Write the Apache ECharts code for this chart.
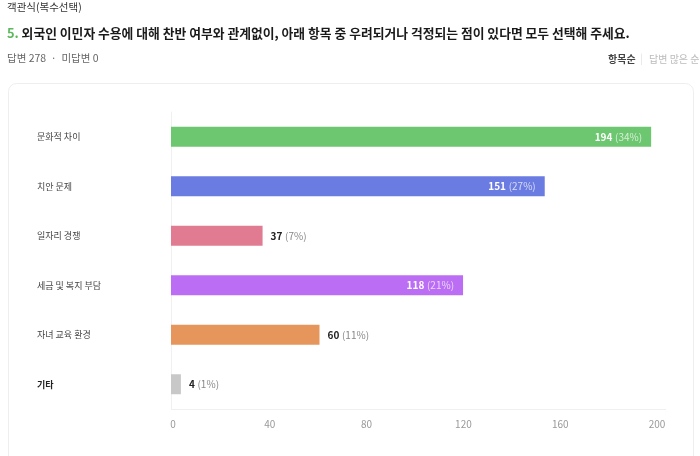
<!DOCTYPE html>
<html><head><meta charset="utf-8">
<script src="https://cdn.jsdelivr.net/npm/echarts@6/dist/echarts.min.js"></script>
<style>html,body{margin:0;padding:0;background:#fff;}#c{width:700px;height:456px;}</style>
</head><body><div id="c"></div>
<script>
const categories = ['문화적 차이', '치안 문제', '일자리 경쟁', '세금 및 복지 부담', '자녀 교육 환경', '기타'];
const counts = [194, 151, 37, 118, 60, 4];
const percents = [34, 27, 7, 21, 11, 1];
const barColors = ['#6dc670', '#6a7be2', '#e07b91', '#bb6ef4', '#e6965a', '#c8c8c8'];
const insideBars = [true, true, false, true, false, false];
const xTicks = [0, 40, 80, 120, 160, 200];

const FONT = '"Noto Sans CJK KR", "Noto Sans", sans-serif';
const chart = echarts.init(document.getElementById('c'));

const data = counts.map((v, i) => ({
  value: v,
  itemStyle: { color: barColors[i] },
  label: insideBars[i]
    ? { position: 'insideRight', distance: 9,
        rich: { n: { color: '#fff', fontWeight: 'bold', fontSize: 10, fontFamily: FONT },
                p: { color: 'rgba(255,255,255,0.72)', fontSize: 10, fontFamily: FONT } } }
    : { position: 'right', distance: 8,
        rich: { n: { color: '#222', fontWeight: 'bold', fontSize: 10, fontFamily: FONT },
                p: { color: '#888', fontSize: 10, fontFamily: FONT } } }
}));

chart.setOption({
  animation: false,
  graphic: [
    { type: 'rect', z: -10, shape: { x: 8.5, y: 83.5, width: 685, height: 420, r: 8 },
      style: { fill: '#fff', stroke: '#eeeeee', lineWidth: 1 } },
    { type: 'text', left: 7, top: 2, style: { text: '객관식(복수선택)', fontSize: 10.5, fontFamily: FONT, fill: '#333' } },
    { type: 'text', left: 7, top: 27, style: { text: '{g|5.} {t|외국인 이민자 수용에 대해 찬반 여부와 관계없이, 아래 항목 중 우려되거나 걱정되는 점이 있다면 모두 선택해 주세요.}',
        fill: '#1a1a1a', fontSize: 12.8, fontWeight: 'bold', fontFamily: FONT,
        rich: { g: { fontSize: 12.8, fontWeight: 'bold', fill: '#5cb85c', color: '#5cb85c', fontFamily: FONT },
                t: { fontSize: 12.8, fontWeight: 'bold', fill: '#1a1a1a', color: '#1a1a1a', fontFamily: FONT } } } },
    { type: 'text', left: 7, top: 53, style: { text: '답변 278  ·  미답변 0', fontSize: 10.5, fontFamily: FONT, fill: '#666' } },
    { type: 'text', left: 608, top: 54, style: { text: '항목순', fontSize: 10, fontWeight: 'bold', fontFamily: FONT, fill: '#444' } },
    { type: 'text', left: 640, top: 53, style: { text: '|', fontSize: 10, fontFamily: FONT, fill: '#e0e0e0' } },
    { type: 'text', left: 649, top: 54, style: { text: '답변 많은 순', fontSize: 10, fontFamily: FONT, fill: '#bbb' } }
  ],
  grid: [
    { left: 171, right: 34, top: 112, bottom: 47 },
    { left: 173, right: 43, top: 112, bottom: 47 }
  ],
  xAxis: [
    { gridIndex: 0, type: 'value', min: 0, max: 200, interval: 40,
      axisLine: { show: false }, axisTick: { show: false }, axisLabel: { show: false },
      splitLine: { show: false } },
    { gridIndex: 1, type: 'value', min: 0, max: 200, interval: 40,
      axisLine: { show: false }, axisTick: { show: false }, splitLine: { show: false },
      axisLabel: { show: true, color: '#999', fontSize: 10, fontFamily: FONT, margin: 10,
        formatter: v => xTicks.includes(v) ? String(v) : '' } }
  ],
  yAxis: [
    { gridIndex: 0, type: 'category', data: categories, inverse: true,
      axisLine: { show: true, lineStyle: { color: '#f0f0f0' } }, axisTick: { show: false },
      splitLine: { show: false },
      axisLabel: { align: 'left', margin: 134, fontSize: 9, color: '#444', fontFamily: FONT,
        formatter: v => v === '기타' ? '{b|' + v + '}' : v,
        rich: { b: { fontWeight: 'bold', fontSize: 9, color: '#222', fontFamily: FONT } } } },
    { gridIndex: 1, type: 'category', data: categories, inverse: true, show: false }
  ],
  series: [
    { type: 'bar', xAxisIndex: 0, yAxisIndex: 0, data: data, barWidth: 20,
      markLine: { silent: true, symbol: 'none', label: { show: false },
        lineStyle: { color: '#f0f0f0', type: 'solid', width: 1 },
        data: [[{ coord: [0, categories[categories.length - 1]], y: 409 }, { coord: [200, categories[categories.length - 1]], y: 409 }]] },
      label: { show: true, fontFamily: FONT,
        formatter: p => '{n|' + p.value + '} {p|(' + percents[p.dataIndex] + '%)}' } }
  ]
});
</script></body></html>
